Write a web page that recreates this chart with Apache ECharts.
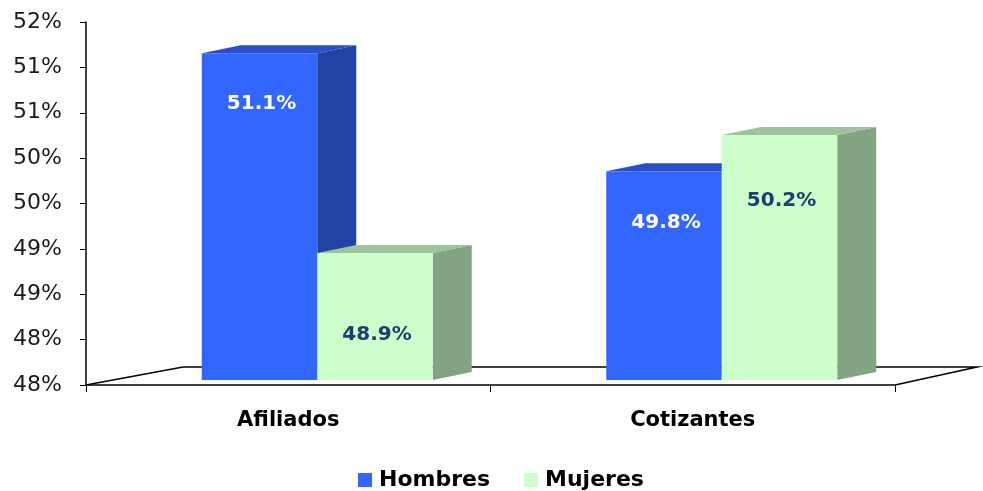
<!DOCTYPE html>
<html><head><meta charset="utf-8">
<script src="https://cdn.jsdelivr.net/npm/echarts@6/dist/echarts.min.js"></script>
<style>html,body{margin:0;padding:0;background:#fff}#c{width:983px;height:491px}</style>
</head><body><div id="c"></div>
<script>
// ---- data ----
const categories = ['Afiliados', 'Cotizantes'];
const hombres = [51.1, 49.8];
const mujeres = [48.9, 50.2];
const seriesNames = ['Hombres', 'Mujeres'];
const yMin = 47.5, yMax = 51.5, yStep = 0.5;

// ---- styling (not data) ----
const FONT = '"DejaVu Sans", sans-serif';
const labelDy = [[50, 52], [82, 66]];
const colors = [
  {face: '#3366FF', side: '#2143A6', top: '#2A4FC6', label: '#FFFFFF'},
  {face: '#CCFFCC', side: '#83A483', top: '#9EC49E', label: '#1F3D6E'}
];

function makeRender(sIdx) {
  const col = colors[sIdx];
  return function (params, api) {
    const ci = api.value(0), v = api.value(1);
    const c = api.coord([ci, v]);
    const base = api.coord([ci, yMin]);
    const bandW = api.size([1, 0])[0];
    const bw = bandW * 0.2855;
    const sx = 29, sy = -5, dx = 39, dy = -8;
    const x0 = (sIdx === 0 ? c[0] - bw : c[0]) + sx;
    const x1 = x0 + bw;
    const yt = c[1] + sy, yb = base[1] + sy;
    return {
      type: 'group', children: [
        {type: 'polygon', shape: {points: [[x1, yt], [x1 + dx, yt + dy], [x1 + dx, yb + dy], [x1, yb]]}, style: {fill: col.side}},
        {type: 'polygon', shape: {points: [[x0, yt], [x0 + dx, yt + dy], [x1 + dx, yt + dy], [x1, yt]]}, style: {fill: col.top}},
        {type: 'rect', shape: {x: x0, y: yt, width: bw, height: yb - yt}, style: {fill: col.face}},
        {type: 'text', style: {text: v.toFixed(1) + '%', x: (x0 + x1) / 2 + 2, y: yt + labelDy[sIdx][ci],
          align: 'center', verticalAlign: 'middle', fill: col.label, font: 'bold 20px ' + FONT}}
      ]
    };
  };
}

function floorRender(params, api) {
  const cs = params.coordSys;
  const xl = cs.x, xr = cs.x + cs.width, yf = cs.y + cs.height;
  return {
    type: 'polyline',
    shape: {points: [[xl, yf], [xl + 97, yf - 18], [xr + 82, yf - 18], [xr, yf]]},
    style: {stroke: '#000', lineWidth: 1.5, fill: 'none'}
  };
}

const chart = echarts.init(document.getElementById('c'), null, {renderer: 'canvas'});
chart.setOption({
  animation: false,
  backgroundColor: '#fff',
  grid: {left: 86, right: 88, top: 22, bottom: 106},
  legend: {
    data: seriesNames, left: 353, top: 464, icon: 'rect', itemWidth: 14, itemHeight: 14, itemGap: 34,
    textStyle: {fontFamily: FONT, fontWeight: 'bold', fontSize: 22, color: '#000', padding: [0, 0, 0, 2]}
  },
  xAxis: {
    type: 'category', data: categories, boundaryGap: true,
    axisLine: {lineStyle: {color: '#000', width: 1.5}},
    axisTick: {show: true, length: 7, lineStyle: {color: '#000'}},
    axisLabel: {fontFamily: FONT, fontWeight: 'bold', fontSize: 21, color: '#000', margin: 25}
  },
  yAxis: {
    type: 'value', min: yMin, max: yMax, interval: yStep,
    axisLine: {show: true, lineStyle: {color: '#000', width: 1.5}},
    axisTick: {show: true, length: 6, lineStyle: {color: '#000'}},
    splitLine: {show: false},
    axisLabel: {fontFamily: FONT, fontSize: 22, color: '#1a1a1a', margin: 24,
      formatter: v => Math.round(v) + '%'}
  },
  series: [
    {type: 'custom', name: '__floor', data: [[0, yMin]], renderItem: floorRender, z: 1, silent: true},
    {type: 'custom', name: seriesNames[0], data: hombres.map((v, i) => [i, v]), renderItem: makeRender(0),
      itemStyle: {color: colors[0].face}, z: 2},
    {type: 'custom', name: seriesNames[1], data: mujeres.map((v, i) => [i, v]), renderItem: makeRender(1),
      itemStyle: {color: colors[1].face}, z: 3}
  ]
});
</script></body></html>
